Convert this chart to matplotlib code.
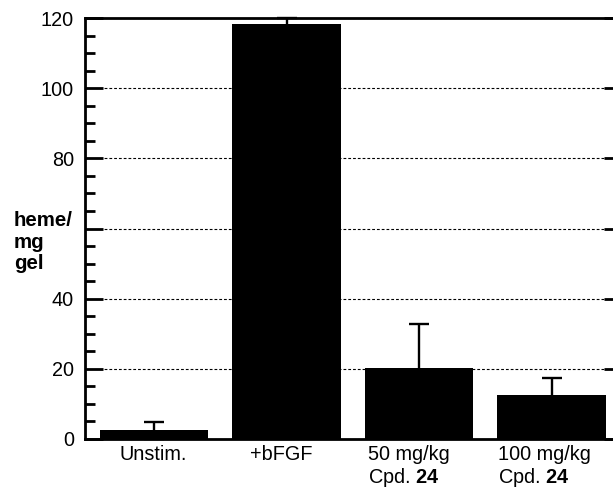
import matplotlib
matplotlib.use("Agg")
import matplotlib.pyplot as plt
import matplotlib.transforms as mtransforms
from matplotlib.ticker import MultipleLocator, FixedFormatter, FixedLocator

plt.rcParams['font.family'] = ['Liberation Sans', 'DejaVu Sans']
plt.rcParams['mathtext.fontset'] = 'custom'
plt.rcParams['mathtext.rm'] = 'Liberation Sans'
plt.rcParams['mathtext.bf'] = 'Liberation Sans:bold'

categories = ["Unstim.", "+bFGF", "50 mg/kg\nCpd. $\\mathbf{24}$", "100 mg/kg\nCpd. $\\mathbf{24}$"]
values = [2.5, 118.3, 20.3, 12.4]
errors = [2.4, 1.7, 12.5, 5.1]
ytick_values = [0, 20, 40, 60, 80, 100, 120]
ytick_labels = ["0", "20", "40", "", "80", "100", "120"]

fig = plt.figure(figsize=(6.13, 4.91), dpi=100)
ax = fig.add_axes([85/613, 1-439/491, (622-85)/613, (439-18)/491])

x = list(range(len(categories)))
ax.bar(x, values, width=0.82, color='black', edgecolor='none', zorder=3)
# symmetric bars drawn beneath the columns so only the upper half shows
ax.errorbar(x, values, yerr=errors, fmt='none', ecolor='black',
            elinewidth=1.7, capsize=7, capthick=1.7, zorder=2, clip_on=False)

ax.set_xlim(-0.52, 3.53)
ax.set_ylim(0, 120)
ax.set_xticks(x)
ax.set_xticklabels(categories, fontsize=14.3, linespacing=1.14, multialignment='left')
ax.tick_params(axis='x', length=0, pad=4)

# small horizontal nudges of the category labels (in pixels), as in the original
label_shift_px = [-1, -5, -10, -7]
for lab, dx in zip(ax.get_xticklabels(), label_shift_px):
    lab.set_transform(lab.get_transform() +
                      mtransforms.ScaledTranslation(dx / 100, 0, fig.dpi_scale_trans))

ax.yaxis.set_major_locator(FixedLocator(ytick_values))
ax.yaxis.set_major_formatter(FixedFormatter(ytick_labels))
ax.yaxis.set_minor_locator(MultipleLocator(5))
ax.tick_params(axis='y', which='major', direction='in', length=13, width=2,
               labelsize=14.3, pad=8, right=True)
ax.tick_params(axis='y', which='minor', direction='in', length=7, width=2, right=False)

for s in ax.spines.values():
    s.set_linewidth(2)

ax.grid(axis='y', which='major', color='black', linewidth=0.8,
        linestyle=(0, (2.5, 1.8)), zorder=1)
ax.set_axisbelow(True)

fig.text(14/613, 1-242/491, "heme/\nmg\ngel", fontsize=14.8, fontweight='bold',
         ha='left', va='center', linespacing=1.15)

fig.savefig("out.png", dpi=100)
